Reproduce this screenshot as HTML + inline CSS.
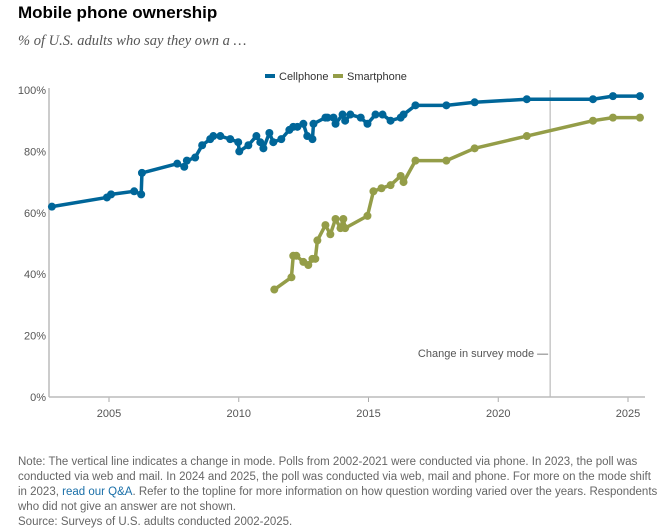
<!DOCTYPE html>
<html><head><meta charset="utf-8"><style>
body{margin:0;background:#fff;font-family:"Liberation Sans",sans-serif;}
#wrap{position:relative;width:668px;height:532px;overflow:hidden;}
.title{position:absolute;left:18px;top:3px;font-size:17px;font-weight:bold;color:#000;}
.sub{position:absolute;left:18px;top:33px;font-family:"Liberation Serif",serif;font-style:italic;font-size:14.5px;color:#555;}
.note{position:absolute;left:18px;top:455px;width:645px;font-size:11.5px;line-height:15px;color:#666;}
.note a{color:#1a6fa8;text-decoration:none;}
</style></head><body>
<div id="wrap">
<div class="title">Mobile phone ownership</div>
<div class="sub">% of U.S. adults who say they own a …</div>
<svg id="chart" width="668" height="440" style="position:absolute;left:0;top:0"></svg>
<div class="note">Note: The vertical line indicates a change in mode. Polls from 2002-2021 were conducted via phone. In 2023, the poll was conducted via web and mail. In 2024 and 2025, the poll was conducted via web, mail and phone. For more on the mode shift in 2023, <a>read our Q&amp;A</a>. Refer to the topline for more information on how question wording varied over the years. Respondents who did not give an answer are not shown.<br>Source: Surveys of U.S. adults conducted 2002-2025.</div>
</div>
<script>
const cellYears=[2002.8,2004.92,2005.08,2005.97,2006.24,2006.27,2007.63,2007.9,2008.0,2008.32,2008.59,2008.9,2009.02,2009.29,2009.67,2009.98,2010.02,2010.37,2010.68,2010.83,2010.95,2011.18,2011.33,2011.64,2011.95,2012.1,2012.26,2012.49,2012.64,2012.84,2012.88,2013.34,2013.42,2013.65,2013.73,2014.0,2014.1,2014.3,2014.7,2014.96,2015.27,2015.54,2015.85,2016.24,2016.35,2016.81,2018.0,2019.09,2021.1,2023.65,2024.42,2025.46];
const cellValues=[62,65,66,67,66,73,76,75,77,78,82,84,85,85,84,83,80,82,85,83,81,86,83,84,87,88,88,89,85,84,89,91,91,91,89,92,90,92,91,89,92,92,90,91,92,95,95,96,97,97,98,98];
const smartYears=[2011.37,2012.03,2012.1,2012.22,2012.49,2012.68,2012.84,2012.95,2013.03,2013.34,2013.53,2013.73,2013.92,2014.03,2014.1,2014.96,2015.19,2015.5,2015.85,2016.24,2016.35,2016.81,2018.0,2019.09,2021.1,2023.65,2024.42,2025.46];
const smartValues=[35,39,46,46,44,43,45,45,51,56,53,58,55,58,55,59,67,68,69,72,70,77,77,81,85,90,91,91];
const yTicks=[0,20,40,60,80,100];
const xTicks=[2005,2010,2015,2020,2025];
const modeChangeYear=2022.0;

const NS="http://www.w3.org/2000/svg";
const svg=document.getElementById('chart');
const x=y=>109+(y-2005)*25.95;
const yS=v=>397-v*3.07;
function mk(t,a){const e=document.createElementNS(NS,t);for(const k in a)e.setAttribute(k,a[k]);svg.appendChild(e);return e;}

yTicks.forEach(v=>{
  const t=mk('text',{x:46,y:yS(v)+4,'text-anchor':'end','font-size':11,fill:'#555'});
  t.textContent=v+'%';
  
  
});
xTicks.forEach(v=>{
  const l=mk('line',{x1:x(v),x2:x(v),y1:397,y2:402,stroke:'#aaa'});
  
  
  const t=mk('text',{x:x(v),y:417,'text-anchor':'middle','font-size':11,fill:'#555'});
  t.textContent=v;
  
  
});
const ya=mk('line',{x1:49,x2:49,y1:88,y2:397,stroke:'#bbb','stroke-width':1.5});


const xa=mk('line',{x1:49,x2:645,y1:397,y2:397,stroke:'#bbb','stroke-width':1.5});


const ml=mk('line',{x1:x(modeChangeYear),x2:x(modeChangeYear),y1:90,y2:397,stroke:'#bbb','stroke-width':1.2});


const mt=mk('text',{x:x(modeChangeYear)-2,y:357,'text-anchor':'end','font-size':11,fill:'#555'});
mt.textContent='Change in survey mode —';



function series(ys,vs,color,name){
  const p=mk('polyline',{points:ys.map((y,i)=>x(y)+','+yS(vs[i])).join(' '),fill:'none',stroke:color,'stroke-width':3.5,'stroke-linejoin':'round'});
  
  
  ys.forEach((y,i)=>{
    const c=mk('circle',{cx:x(y),cy:yS(vs[i]),r:4,fill:color});
    
    
  });
}
series(smartYears,smartValues,'#949d48','smartphone');
series(cellYears,cellValues,'#006699','cellphone');

[['Cellphone','#006699',265],['Smartphone','#949d48',333]].forEach(([n,c,lx])=>{
  const r=mk('rect',{x:lx,y:74,width:10,height:4,fill:c});
  
  
  const t=mk('text',{x:lx+14,y:80,'font-size':11,fill:'#333'});
  t.textContent=n;
  
  
});
</script>
</body></html>
